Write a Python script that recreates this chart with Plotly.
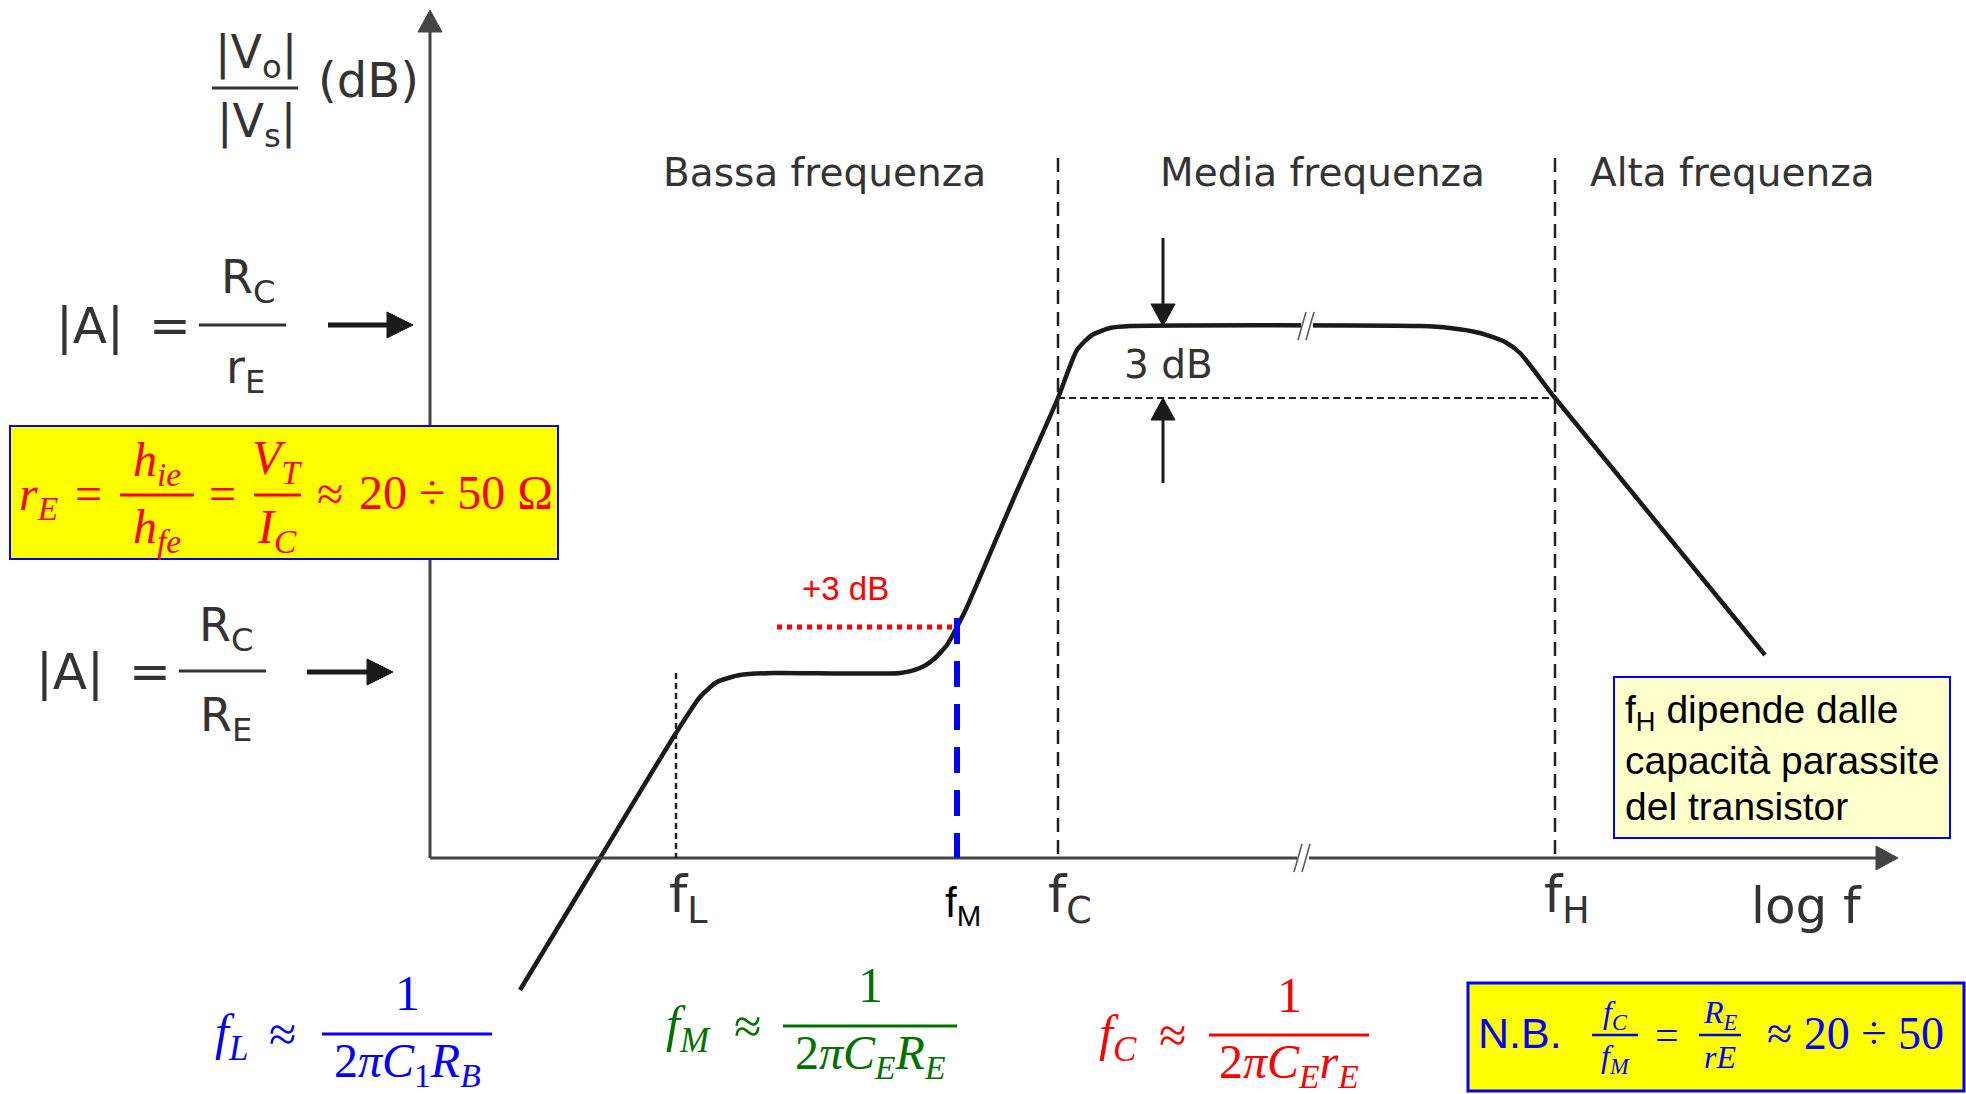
import plotly.graph_objects as go

# ---------------------------------------------------------------- data
# Bode-style magnitude sketch of a CE amplifier with partially bypassed RE.
# Coordinates are diagram units (x grows with log f, y grows downward).
curve_x = [520, 600, 676, 700, 717, 740, 773, 900, 920, 933, 947, 957, 967,
           1013, 1058, 1077, 1092, 1110, 1130, 1420, 1450, 1480, 1505, 1520,
           1555, 1765]
curve_y = [990, 858, 733, 697, 682, 675, 673, 673, 668, 660, 645, 627, 607,
           500, 398, 350, 335, 328, 326, 326, 328, 333, 342, 353, 398, 655]

tick_names = ["L", "M", "C", "H"]
tick_x = [676, 957, 1058, 1555]

region_names = ["Bassa frequenza", "Media frequenza", "Alta frequenza"]
region_x = [824, 1322, 1732]

axis_origin = (430, 858)
axis_end_x = 1898
axis_end_y = 10
midband_level = 326     # |A| = RC/rE
cutoff_level = 398      # -3 dB from midband
shelf_level = 673       # |A| = RC/RE
plus3_level = 627       # +3 dB above the shelf

# ---------------------------------------------------------------- styles
SANS = "DejaVu Sans"
ARIAL = "Liberation Sans"
SERIF = "Liberation Serif"
GRAY = "#333333"
AXIS = "#444444"
RED = "#ff0000"
BLUE = "#0000ff"
GREEN = "#007000"

fig = go.Figure()
shapes = []
annotations = []


def text(x, y, s, size, color=GRAY, family=SANS, xanchor="center",
         yanchor="middle"):
    annotations.append(dict(x=x, y=y, xref="x", yref="y", text=s,
                            showarrow=False, xanchor=xanchor, yanchor=yanchor,
                            font=dict(size=size, color=color, family=family)))


def line(x0, y0, x1, y1, color, width, dash=None, layer="above"):
    d = dict(type="line", x0=x0, y0=y0, x1=x1, y1=y1, xref="x", yref="y",
             layer=layer, line=dict(color=color, width=width))
    if dash:
        d["line"]["dash"] = dash
    shapes.append(d)


def arrow(x0, y0, x1, y1, color, width, head_len, head_w):
    """Straight arrow from (x0,y0) to tip (x1,y1) with a filled head."""
    dx, dy = x1 - x0, y1 - y0
    n = (dx * dx + dy * dy) ** 0.5
    ux, uy = dx / n, dy / n
    bx, by = x1 - ux * head_len, y1 - uy * head_len
    line(x0, y0, bx + ux * 2, by + uy * 2, color, width)
    px, py = -uy * head_w / 2, ux * head_w / 2
    path = (f"M {x1},{y1} L {bx + px},{by + py} L {bx - px},{by - py} Z")
    shapes.append(dict(type="path", path=path, xref="x", yref="y",
                       fillcolor=color, line=dict(color=color, width=1)))


def rect(x0, y0, x1, y1, fill, border, width):
    shapes.append(dict(type="rect", x0=x0, y0=y0, x1=x1, y1=y1, xref="x",
                       yref="y", fillcolor=fill,
                       line=dict(color=border, width=width)))


def break_mark(x, y, gap_w):
    line(x - 3, y, x + 9, y, "white", gap_w)
    line(x - 6, y + 14, x + 2, y - 14, "#555555", 1.5)
    line(x + 2, y + 14, x + 10, y - 14, "#555555", 1.5)


# ---------------------------------------------------------------- axes
ox, oy = axis_origin
arrow(ox, oy, ox, axis_end_y, AXIS, 3, 22, 24)
arrow(ox, oy, axis_end_x, oy, AXIS, 3, 22, 24)

# ---------------------------------------------------------------- guides
line(tick_x[0], shelf_level, tick_x[0], oy, "#222222", 2.5, "6px,4px")
line(tick_x[2], 158, tick_x[2], oy, "#222222", 2.5, "14px,8px")
line(tick_x[3], 158, tick_x[3], oy, "#222222", 2.5, "14px,8px")
line(tick_x[2], cutoff_level, tick_x[3], cutoff_level, "#222222", 2,
     "7px,4px")
line(777, plus3_level, tick_x[1], plus3_level, RED, 5, "dot")
line(tick_x[1], 618, tick_x[1], oy, BLUE, 6, "26px,17px")

# ---------------------------------------------------------------- curve
fig.add_trace(go.Scatter(x=curve_x, y=curve_y, mode="lines",
                         line=dict(color="#1a1a1a", width=4.5,
                                   shape="spline", smoothing=0.6),
                         hoverinfo="skip", showlegend=False))

break_mark(1304, midband_level, 8)
break_mark(1300, oy, 6)

# 3 dB markers
arrow(1163, 238, 1163, midband_level, "#1a1a1a", 3, 22, 24)
arrow(1163, 483, 1163, cutoff_level, "#1a1a1a", 3, 22, 24)
text(1168, 364, "3 dB", 39)
text(845, 588, "+3 dB", 33, RED, ARIAL)

# ---------------------------------------------------------------- region titles
for name, xc in zip(region_names, region_x):
    text(xc, 172, name, 39)

# ---------------------------------------------------------------- tick labels
for name, xc in zip(tick_names, tick_x):
    if name == "M":
        text(xc + 6, 905, "f<sub>M</sub>", 42, "#000000", ARIAL)
    else:
        text(xc + 12, 898, f"f<sub>{name}</sub>", 52)
text(1806, 906, "log f", 50)

# ---------------------------------------------------------------- y label
text(256, 55, "|V<sub>o</sub>|", 46)
line(212, 88, 298, 88, GRAY, 3)
text(256, 124, "|V<sub>s</sub>|", 46)
text(368, 80, "(dB)", 48)

# ---------------------------------------------------------------- gain levels
text(90, 326, "|A|", 50)
text(170, 326, "=", 50)
text(248, 280, "R<sub>C</sub>", 46)
line(199, 325, 286, 325, GRAY, 3)
text(245, 370, "r<sub>E</sub>", 46)
arrow(328, 325, 413, 325, "#1a1a1a", 5, 26, 26)

text(70, 672, "|A|", 50)
text(150, 672, "=", 50)
text(226, 628, "R<sub>C</sub>", 46)
line(179, 671, 266, 671, GRAY, 3)
text(226, 718, "R<sub>E</sub>", 46)
arrow(307, 672, 393, 672, "#1a1a1a", 5, 26, 26)

# ---------------------------------------------------------------- rE box
rect(10, 426, 558, 559, "#ffff00", BLUE, 2)
text(38, 497, "<i>r</i><sub><i>E</i></sub>", 48, RED, SERIF)
text(88, 493, "=", 48, RED, SERIF)
text(157, 463, "<i>h</i><sub><i>ie</i></sub>", 48, RED, SERIF)
line(120, 495, 194, 495, RED, 3)
text(157, 530, "<i>h</i><sub><i>fe</i></sub>", 48, RED, SERIF)
text(222, 493, "=", 48, RED, SERIF)
text(277, 461, "<i>V</i><sub><i>T</i></sub>", 48, RED, SERIF)
line(254, 495, 301, 495, RED, 3)
text(277, 530, "<i>I</i><sub><i>C</i></sub>", 48, RED, SERIF)
text(330, 493, "≈", 48, RED, SERIF)
text(456, 492, "20 ÷ 50 Ω", 48, RED, SERIF)

# ---------------------------------------------------------------- fH note
rect(1614, 677, 1950, 838, "#ffffcc", BLUE, 2)
text(1623, 712, "f<sub>H</sub> dipende dalle", 39, "#000000", ARIAL, "left")
text(1623, 760, "capacità parassite", 39, "#000000", ARIAL, "left")
text(1623, 806, "del transistor", 39, "#000000", ARIAL, "left")


# ---------------------------------------------------------------- corner formulas
def corner(xf, xa, x0, x1, ytop, yline, ybot, sym, den, color):
    text(xf, yline + 2, sym, 50, color, SERIF)
    text(xa, yline, "≈", 50, color, SERIF)
    text((x0 + x1) / 2, ytop, "1", 50, color, SERIF)
    line(x0, yline, x1, yline, color, 3)
    text((x0 + x1) / 2, ybot, den, 48, color, SERIF)


corner(231, 282, 322, 492, 993, 1034, 1064,
       "<i>f</i><sub><i>L</i></sub>",
       "2<i>πC</i><sub>1</sub><i>R</i><sub><i>B</i></sub>", BLUE)
corner(688, 747, 783, 957, 985, 1026, 1056,
       "<i>f</i><sub><i>M</i></sub>",
       "2<i>πC</i><sub><i>E</i></sub><i>R</i><sub><i>E</i></sub>", GREEN)
corner(1118, 1172, 1209, 1369, 995, 1035, 1065,
       "<i>f</i><sub><i>C</i></sub>",
       "2<i>πC</i><sub><i>E</i></sub><i>r</i><sub><i>E</i></sub>", RED)

# ---------------------------------------------------------------- N.B. box
rect(1468, 983, 1964, 1091, "#ffff00", BLUE, 3)
text(1520, 1033, "N.B.", 43, BLUE, ARIAL)
text(1615, 1014, "<i>f</i><sub><i>C</i></sub>", 32, BLUE, SERIF)
line(1592, 1035, 1638, 1035, BLUE, 2.5)
text(1615, 1058, "<i>f</i><sub><i>M</i></sub>", 32, BLUE, SERIF)
text(1667, 1035, "=", 42, BLUE, SERIF)
text(1720, 1014, "<i>R</i><sub><i>E</i></sub>", 32, BLUE, SERIF)
line(1699, 1035, 1741, 1035, BLUE, 2.5)
text(1720, 1057, "<i>rE</i>", 32, BLUE, SERIF)
text(1855, 1033, "≈ 20 ÷ 50", 46, BLUE, SERIF)

# ---------------------------------------------------------------- layout
fig.update_layout(
    width=1966, height=1094,
    margin=dict(l=0, r=0, t=0, b=0),
    paper_bgcolor="white", plot_bgcolor="white",
    xaxis=dict(range=[0, 1966], visible=False, fixedrange=True),
    yaxis=dict(range=[1094, 0], visible=False, fixedrange=True),
    shapes=shapes, annotations=annotations,
    showlegend=False,
)

fig.write_html("out.html", config={"displayModeBar": False})
